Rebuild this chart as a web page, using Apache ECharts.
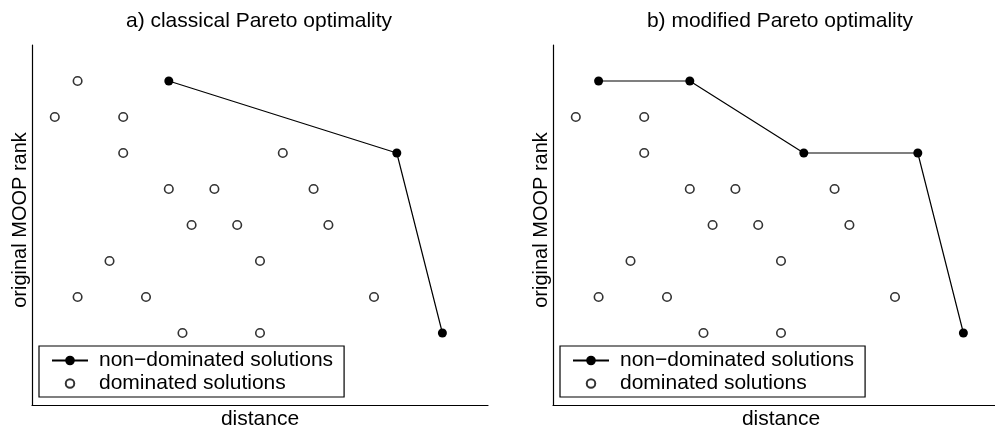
<!DOCTYPE html>
<html>
<head>
<meta charset="utf-8">
<title>Pareto optimality</title>
<script src="https://cdn.jsdelivr.net/npm/echarts@6/dist/echarts.min.js"></script>
<style>
  html, body { margin: 0; padding: 0; background: #fff; }
  #chart { width: 995px; height: 428px; }
</style>
</head>
<body>
<div id="chart"></div>
<script>
// Panel titles and axis names
const panelTitles = ['a) classical Pareto optimality', 'b) modified Pareto optimality'];
const xName = 'distance';
const yName = 'original MOOP rank';
const legendNames = ['non\u2212dominated solutions', 'dominated solutions'];

// [distance, rank level] pairs
const frontA = [[6, 8], [16, 6], [18, 1]];
const dominatedA = [
  [2, 8], [1, 7], [4, 7], [4, 6], [11, 6],
  [6, 5], [8, 5], [12.35, 5], [7, 4], [9, 4], [13, 4],
  [3.4, 3], [10, 3], [2, 2], [5, 2], [15, 2], [6.6, 1], [10, 1]
];
const frontB = [[2, 8], [6, 8], [11, 6], [16, 6], [18, 1]];
const dominatedB = [
  [1, 7], [4, 7], [4, 6],
  [6, 5], [8, 5], [12.35, 5], [7, 4], [9, 4], [13, 4],
  [3.4, 3], [10, 3], [2, 2], [5, 2], [15, 2], [6.6, 1], [10, 1]
];

const FONT = '"Liberation Sans", Arial, sans-serif';
const INK = '#000';
const panelLeft = [32, 553];
const panelWidth = 456;
const openCircleIcon = 'path://M0,0M12,12M10.25,6A4.25,4.25,0,1,1,1.75,6A4.25,4.25,0,1,1,10.25,6Z';

const chart = echarts.init(document.getElementById('chart'), null, { renderer: 'canvas' });

function axisX(i) {
  return {
    gridIndex: i, type: 'value', min: 0, max: 20,
    name: xName, nameLocation: 'middle', nameGap: 4,
    nameTextStyle: { fontFamily: FONT, fontSize: 21, color: INK, verticalAlign: 'top' },
    axisLine: { show: true, onZero: false, lineStyle: { color: INK, width: 1.2 } },
    axisTick: { show: false }, axisLabel: { show: false }, splitLine: { show: false }
  };
}
function axisY(i) {
  return {
    gridIndex: i, type: 'value', min: -1, max: 9,
    name: yName, nameLocation: 'middle', nameGap: 2,
    nameTextStyle: { fontFamily: FONT, fontSize: 20, color: INK, verticalAlign: 'bottom', padding: [0, 0, 0, 10] },
    axisLine: { show: true, onZero: false, lineStyle: { color: INK, width: 1.2 } },
    axisTick: { show: false }, axisLabel: { show: false }, splitLine: { show: false }
  };
}
function frontSeries(i, data) {
  return {
    name: legendNames[0], type: 'line', xAxisIndex: i, yAxisIndex: i,
    data: data, symbol: 'circle', symbolSize: 9, showSymbol: true,
    lineStyle: { color: INK, width: 1.2 }, itemStyle: { color: INK },
    animation: false, silent: true, z: 3
  };
}
function dominatedSeries(i, data) {
  return {
    name: legendNames[1], type: 'scatter', xAxisIndex: i, yAxisIndex: i,
    data: data, symbol: 'circle', symbolSize: 8.5,
    itemStyle: { color: '#fff', borderColor: '#333', borderWidth: 1.6, opacity: 1 },
    animation: false, silent: true, z: 2
  };
}
function legendBox(i) {
  return {
    show: true, orient: 'vertical', left: panelLeft[i] + 7, top: 346,
    itemWidth: 36, itemHeight: 12, itemGap: 0,
    padding: [3, 11, 2, 12],
    borderColor: INK, borderWidth: 1.2, backgroundColor: '#fff',
    selectedMode: false,
    textStyle: { fontFamily: FONT, fontSize: 21, color: INK, lineHeight: 23, padding: [0, 0, 0, 6] },
    data: [
      { name: legendNames[0] },
      { name: legendNames[1], icon: openCircleIcon }
    ]
  };
}

chart.setOption({
  backgroundColor: '#fff',
  animation: false,
  title: panelTitles.map((t, i) => ({
    text: t, left: panelLeft[i] + panelWidth / 2 - 1, top: 11, padding: 0,
    textAlign: 'center',
    textStyle: { fontFamily: FONT, fontSize: 21, fontWeight: 'normal', color: INK }
  })),
  legend: [legendBox(0), legendBox(1)],
  grid: panelLeft.map(l => ({
    left: l, top: 45, width: panelWidth, height: 360,
    containLabel: false, outerBoundsMode: 'none'
  })),
  xAxis: [axisX(0), axisX(1)],
  yAxis: [axisY(0), axisY(1)],
  series: [
    frontSeries(0, frontA), dominatedSeries(0, dominatedA),
    frontSeries(1, frontB), dominatedSeries(1, dominatedB)
  ]
});
</script>
</body>
</html>
